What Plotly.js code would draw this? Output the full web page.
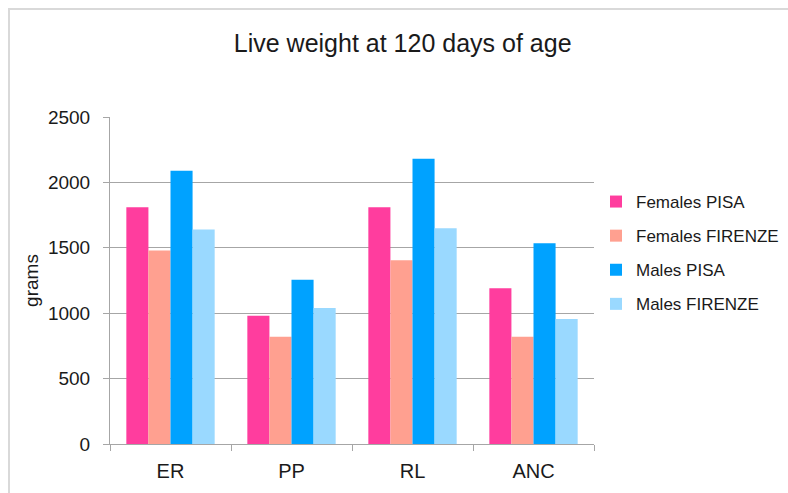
<!DOCTYPE html>
<html>
<head>
<meta charset="utf-8">
<script src="https://cdn.plot.ly/plotly-3.0.1.min.js"></script>
<style>
  html, body { margin: 0; padding: 0; background: #ffffff; }
  #wrap { position: relative; width: 788px; height: 493px; }
  #chart { position: absolute; left: 0; top: 0; width: 788px; height: 493px; }
  #frame { position: absolute; left: 8px; top: 8px; right: 0; bottom: 0;
           border-left: 2px solid #d9d9d9; border-top: 2px solid #d9d9d9; pointer-events: none; }
</style>
</head>
<body>
<div id="wrap">
  <div id="chart"></div>
  <div id="frame"></div>
</div>
<script>
const categories = ["ER", "PP", "RL", "ANC"];
const seriesNames = ["Females PISA", "Females FIRENZE", "Males PISA", "Males FIRENZE"];
const femalesPisa = [1810, 980, 1810, 1190];
const femalesFirenze = [1480, 820, 1405, 820];
const malesPisa = [2090, 1255, 2180, 1535];
const malesFirenze = [1640, 1040, 1650, 955];
const yTicks = [0, 500, 1000, 1500, 2000, 2500];
const colors = ["#FF3D9E", "#FFA090", "#00A2FF", "#9AD9FF"];

const values = [femalesPisa, femalesFirenze, malesPisa, malesFirenze];
const traces = values.map((v, i) => ({
  type: "bar",
  name: seriesNames[i],
  x: categories,
  y: v,
  marker: { color: colors[i], line: { width: 0 } },
  legendgroup: "g" + i,
  hoverinfo: "x+y+name"
}));

const layout = {
  width: 788,
  height: 493,
  paper_bgcolor: "#ffffff",
  plot_bgcolor: "#ffffff",
  font: { family: "Liberation Sans, Arial, sans-serif", color: "#1a1a1a" },
  margin: { l: 110, r: 194, t: 117, b: 49, pad: 0 },
  title: {
    text: "Live weight at 120 days of age",
    font: { size: 25, color: "#1a1a1a" },
    x: 0.511, xref: "container", xanchor: "center",
    y: 1 - 43 / 493, yref: "container", yanchor: "middle"
  },
  barmode: "group",
  bargap: 0.27,
  bargroupgap: 0,
  xaxis: {
    type: "category",
    showgrid: false,
    showline: true,
    linecolor: "#a6a6a6",
    linewidth: 1,
    ticks: "outside",
    tickson: "boundaries",
    ticklen: 6,
    tickcolor: "#a6a6a6",
    tickfont: { size: 20, color: "#1a1a1a" },
    ticklabelstandoff: 9,
    automargin: false
  },
  yaxis: {
    range: [0, 2500],
    tickvals: yTicks,
    ticktext: yTicks.map(String),
    showgrid: true,
    gridcolor: "#a6a6a6",
    gridwidth: 1,
    showline: true,
    linecolor: "#a6a6a6",
    linewidth: 1,
    zeroline: false,
    ticks: "outside",
    ticklen: 6,
    tickcolor: "#a6a6a6",
    tickfont: { size: 19, color: "#1a1a1a" },
    ticklabelstandoff: 9,
    title: { text: "grams", font: { size: 19, color: "#1a1a1a" }, standoff: 4 },
    automargin: false
  },
  legend: {
    xref: "container", yref: "container",
    x: 596 / 788, xanchor: "left",
    y: 1 - 253 / 493, yanchor: "middle",
    traceorder: "grouped",
    tracegroupgap: 9,
    font: { size: 17, color: "#1a1a1a" },
    bgcolor: "rgba(0,0,0,0)"
  },
  showlegend: true
};

Plotly.newPlot("chart", traces, layout, { displayModeBar: false, staticPlot: true });
</script>
</body>
</html>
